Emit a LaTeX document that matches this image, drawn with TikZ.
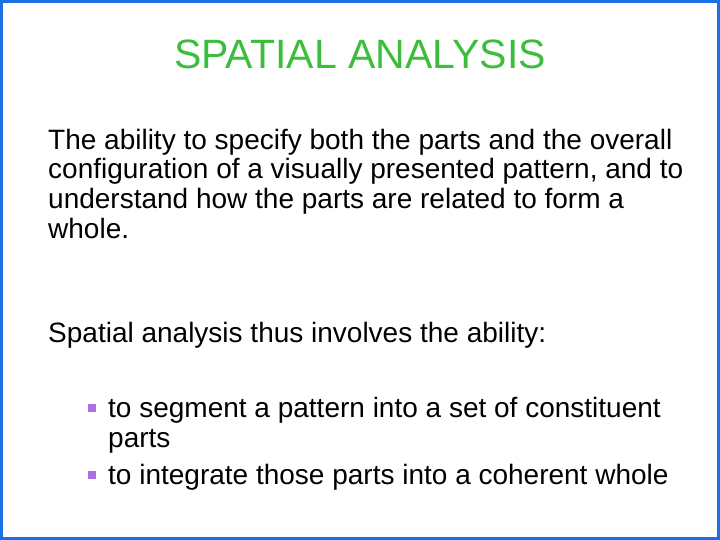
\documentclass[tikz,border=0pt]{standalone}
\usepackage{fontspec}
\setmainfont{Liberation Sans}
\definecolor{bord}{RGB}{30,110,230}
\definecolor{ttl}{RGB}{60,190,60}
\definecolor{bul}{RGB}{170,110,230}
\begin{document}
\begin{tikzpicture}[x=1pt,y=-1pt,
  body/.style={anchor=base west,inner sep=0pt,font=\fontsize{28}{32}\selectfont},
  bulletsq/.style={fill=bul,minimum size=8pt,inner sep=0pt}]
\useasboundingbox (0,0) rectangle (720,540);
\draw[bord,line width=3pt] (1.5,1.5) rectangle (718.5,538.5);
\node[anchor=base,inner sep=0pt,text=ttl,font=\fontsize{41}{44}\selectfont] (title) at (360,69) {SPATIAL ANALYSIS};
\node[body] (l1) at (48,150) {The ability to specify both the parts and the overall};
\node[body] (l2) at (48,179) {configuration of a visually presented pattern, and to};
\node[body] (l3) at (48,209) {understand how the parts are related to form a};
\node[body] (l4) at (48,238) {whole.};
\node[body] (l5) at (48,342) {Spatial analysis thus involves the ability:};
\node[body] (b1) at (108,417) {to segment a pattern into a set of constituent};
\node[body] (b1b) at (108,447) {parts};
\node[body] (b2) at (108,484) {to integrate those parts into a coherent whole};
\node[bulletsq] (s1) at (92,408) {};
\node[bulletsq] (s2) at (92,475) {};
\end{tikzpicture}
\end{document}
